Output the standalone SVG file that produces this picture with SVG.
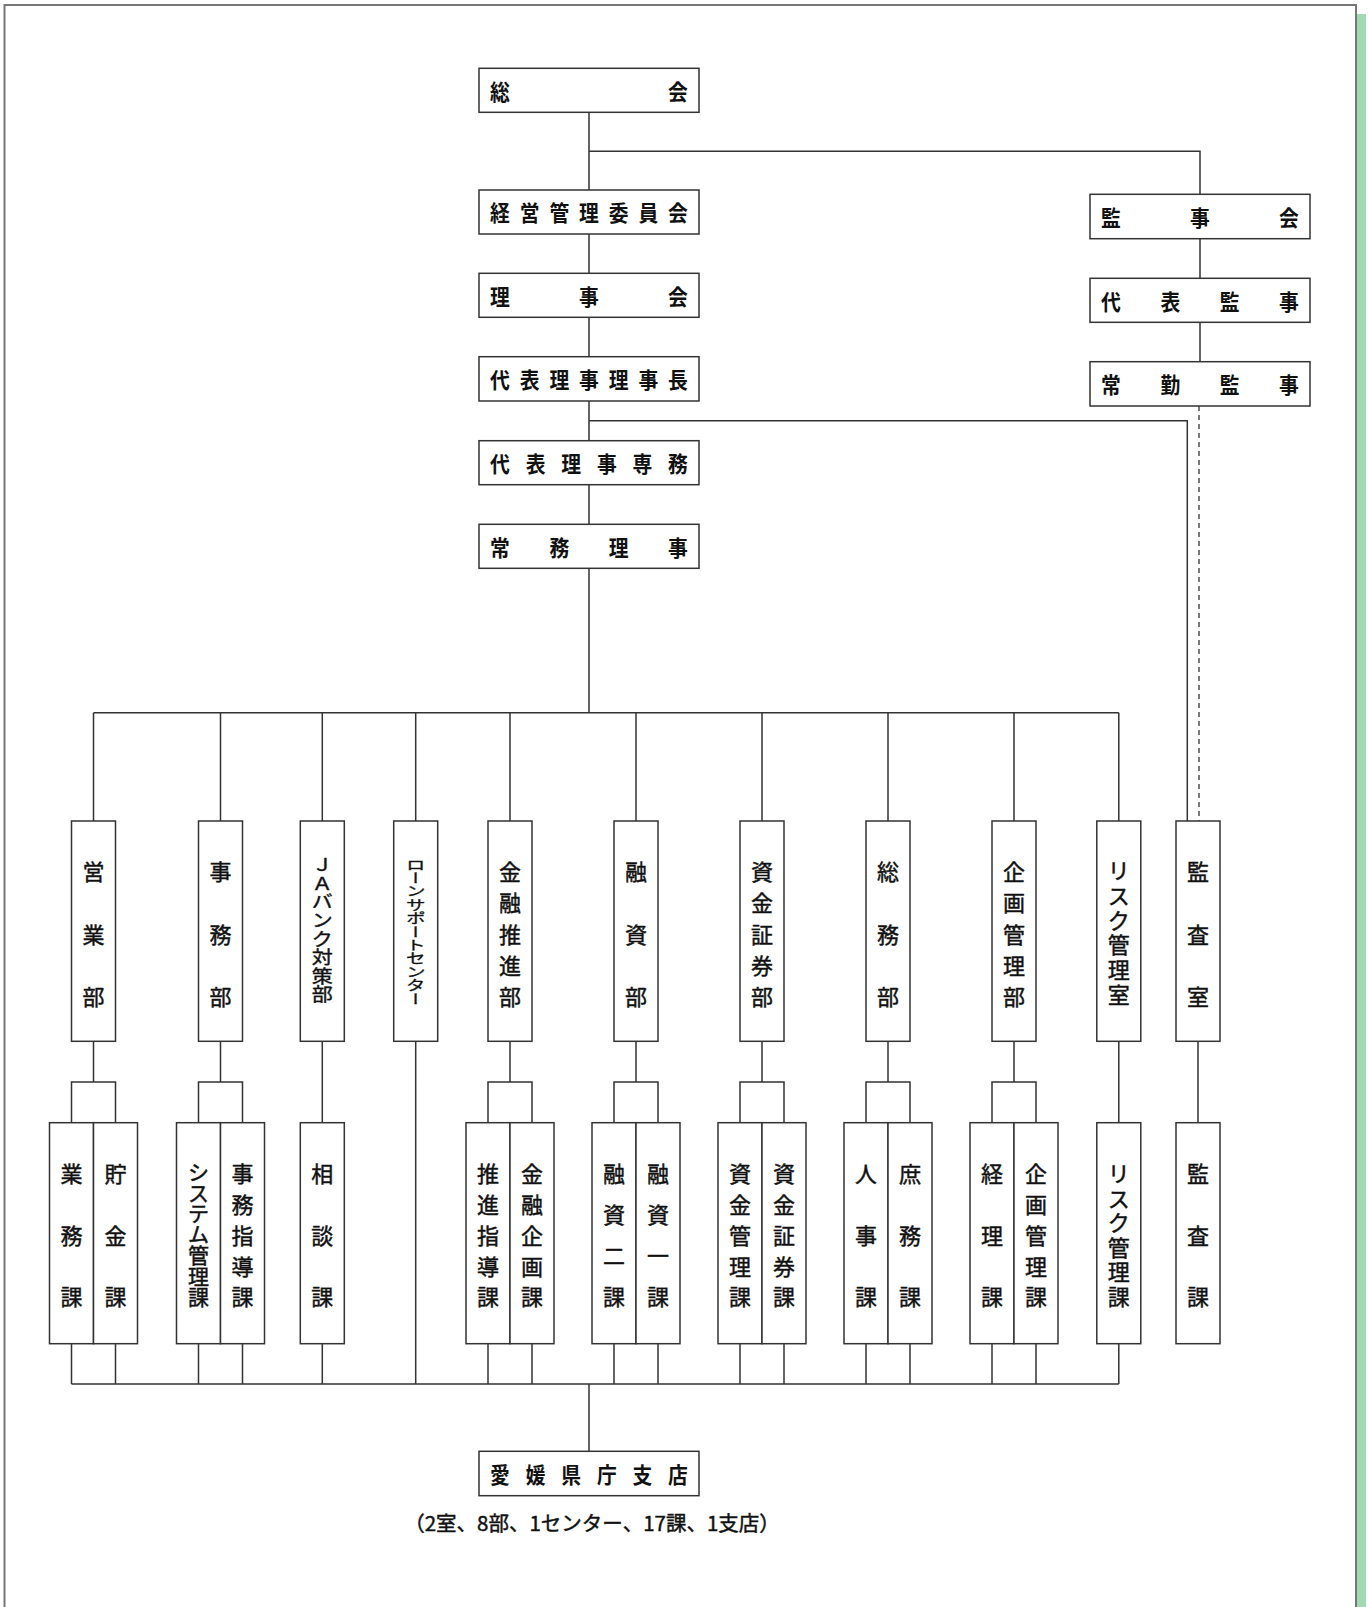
<svg xmlns="http://www.w3.org/2000/svg" width="1368" height="1607" viewBox="0 0 1368 1607">
<defs>
<style>
.bx{fill:#fff;stroke:#333;stroke-width:1.5}
.ln{fill:none;stroke:#333;stroke-width:1.5}
.ds{fill:none;stroke:#333;stroke-width:1.3;stroke-dasharray:5 4}
text{font-family:"Noto Sans CJK JP","Noto Sans CJK SC",sans-serif;fill:#111;dominant-baseline:central;text-anchor:middle}
.h{font-size:22px;font-weight:bold}
.v{font-size:22px;stroke:#111;stroke-width:0.45}
.vt{font-size:20px;stroke:#111;stroke-width:0.4;writing-mode:vertical-rl}
.note{font-size:20.5px;stroke:#111;stroke-width:0.45}
</style>
</defs>
<rect width="1368" height="1607" fill="#fff"/>
<g id="frame">
<path d="M4.5 1607 V5 H1356 V1607" fill="none" stroke="#777" stroke-width="2"/>
<rect x="1357" y="14" width="9" height="1593" fill="#A2D9B5"/>
</g>
<g id="connectors">
<path class="ln" d="M589 112.3 V190 M589 151.3 H1200 V194.3 M589 233.7 V273.3 M589 317.3 V356.7 M589 401 V440.7 M589 420.7 H1187.3 V821 M589 484.7 V524.3 M589 568.3 V712.7 M1200 238.7 V278.3 M1200 322.3 V361.7"/>
<path class="ds" d="M1199 406 V821"/>
<path class="ln" d="M93.5 712.7 H1118.8 M93.5 712.7 V821 M220.5 712.7 V821 M322.3 712.7 V821 M415.7 712.7 V821 M510 712.7 V821 M636 712.7 V821 M762 712.7 V821 M888 712.7 V821 M1014 712.7 V821 M1118.8 712.7 V821"/>
<path class="ln" d="M93.5 1041.3 V1082 M71.5 1122.7 V1082 H115.5 V1122.7 M220.5 1041.3 V1082 M198.5 1122.7 V1082 H242.5 V1122.7 M510 1041.3 V1082 M488 1122.7 V1082 H532 V1122.7 M636 1041.3 V1082 M614 1122.7 V1082 H658 V1122.7 M762 1041.3 V1082 M740 1122.7 V1082 H784 V1122.7 M888 1041.3 V1082 M866 1122.7 V1082 H910 V1122.7 M1014 1041.3 V1082 M992 1122.7 V1082 H1036 V1122.7 M322.3 1041.3 V1122.7 M1118.8 1041.3 V1122.7 M1198 1041.3 V1122.7 M415.7 1041.3 V1384"/>
<path class="ln" d="M71.5 1343.7 V1384 M115.5 1343.7 V1384 M198.5 1343.7 V1384 M242.5 1343.7 V1384 M322.3 1343.7 V1384 M488 1343.7 V1384 M532 1343.7 V1384 M614 1343.7 V1384 M658 1343.7 V1384 M740 1343.7 V1384 M784 1343.7 V1384 M866 1343.7 V1384 M910 1343.7 V1384 M992 1343.7 V1384 M1036 1343.7 V1384 M1118.8 1343.7 V1384 M71.5 1384 H1118.8 M589 1384 V1451"/>
</g>
<g id="n-soukai"><rect class="bx" x="479" y="68.3" width="220" height="44"/><text class="h" transform="translate(589 90.3) scale(0.9 1)" x="-98.89 98.89" y="0">総会</text></g>
<g id="n-keiei"><rect class="bx" x="479" y="190" width="220" height="44"/><text class="h" transform="translate(589 212) scale(0.9 1)" x="-98.89 -65.93 -32.96 0 32.96 65.93 98.89" y="0">経営管理委員会</text></g>
<g id="n-rijikai"><rect class="bx" x="479" y="273.3" width="220" height="44"/><text class="h" transform="translate(589 295.3) scale(0.9 1)" x="-98.89 0 98.89" y="0">理事会</text></g>
<g id="n-rijicho"><rect class="bx" x="479" y="356.7" width="220" height="44.3"/><text class="h" transform="translate(589 378.8) scale(0.9 1)" x="-98.89 -65.93 -32.96 0 32.96 65.93 98.89" y="0">代表理事理事長</text></g>
<g id="n-senmu"><rect class="bx" x="479" y="440.7" width="220" height="44"/><text class="h" transform="translate(589 462.7) scale(0.9 1)" x="-98.89 -59.33 -19.78 19.78 59.33 98.89" y="0">代表理事専務</text></g>
<g id="n-jomu"><rect class="bx" x="479" y="524.3" width="220" height="44"/><text class="h" transform="translate(589 546.3) scale(0.9 1)" x="-98.89 -32.96 32.96 98.89" y="0">常務理事</text></g>
<g id="n-kanjikai"><rect class="bx" x="1090" y="194.3" width="220" height="44.4"/><text class="h" transform="translate(1200 216.5) scale(0.9 1)" x="-98.89 0 98.89" y="0">監事会</text></g>
<g id="n-daihyokanji"><rect class="bx" x="1090" y="278.3" width="220" height="44"/><text class="h" transform="translate(1200 300.3) scale(0.9 1)" x="-98.89 -32.96 32.96 98.89" y="0">代表監事</text></g>
<g id="n-jokinkanji"><rect class="bx" x="1090" y="361.7" width="220" height="44.3"/><text class="h" transform="translate(1200 383.8) scale(0.9 1)" x="-98.89 -32.96 32.96 98.89" y="0">常勤監事</text></g>
<g id="n-eigyobu"><rect class="bx" x="71.5" y="821" width="44" height="220.3"/><text class="v" x="93.5 93.5 93.5" y="870 932.5 995">営業部</text></g>
<g id="n-jimubu"><rect class="bx" x="198.5" y="821" width="44" height="220.3"/><text class="v" x="220.5 220.5 220.5" y="870 932.5 995">事務部</text></g>
<g id="n-jabank"><rect class="bx" x="300.3" y="821" width="44" height="220.3"/><text class="v" style="font-size:21px" transform="translate(322.3 929) scale(1 0.84)" x="0 0 0 0 0 0 0 0" y="-77.4 -55.2 -33.2 -11.1 11.1 33.2 55.2 77.4">ＪＡバンク対策部</text></g>
<g id="n-loan"><rect class="bx" x="393.7" y="821" width="44" height="220.3"/><text class="vt" transform="translate(415.7 931.5) scale(1 0.67)" x="0" y="0">ローンサポートセンター</text></g>
<g id="n-kinyusuishin"><rect class="bx" x="488" y="821" width="44" height="220.3"/><text class="v" x="510 510 510 510 510" y="870 901.25 932.5 963.75 995">金融推進部</text></g>
<g id="n-yushibu"><rect class="bx" x="614" y="821" width="44" height="220.3"/><text class="v" x="636 636 636" y="870 932.5 995">融資部</text></g>
<g id="n-shikinshoken"><rect class="bx" x="740" y="821" width="44" height="220.3"/><text class="v" x="762 762 762 762 762" y="870 901.25 932.5 963.75 995">資金証券部</text></g>
<g id="n-somubu"><rect class="bx" x="866" y="821" width="44" height="220.3"/><text class="v" x="888 888 888" y="870 932.5 995">総務部</text></g>
<g id="n-kikakukanri"><rect class="bx" x="992" y="821" width="44" height="220.3"/><text class="v" x="1014 1014 1014 1014 1014" y="870 901.25 932.5 963.75 995">企画管理部</text></g>
<g id="n-riskshitsu"><rect class="bx" x="1096.8" y="821" width="44" height="220.3"/><text class="v" x="1118.8 1118.8 1118.8 1118.8 1118.8 1118.8" y="869 893.8 918.6 943.4 968.2 993">リスク管理室</text></g>
<g id="n-kansashitsu"><rect class="bx" x="1176" y="821" width="44" height="220.3"/><text class="v" x="1198 1198 1198" y="870 932.5 995">監査室</text></g>
<g id="n-gyomuka"><rect class="bx" x="49.5" y="1122.7" width="44" height="221"/><text class="v" x="71.5 71.5 71.5" y="1171.7 1233.5 1295.4">業務課</text></g>
<g id="n-chokinka"><rect class="bx" x="93.5" y="1122.7" width="44" height="221"/><text class="v" x="115.5 115.5 115.5" y="1171.7 1233.5 1295.4">貯金課</text></g>
<g id="n-systemka"><rect class="bx" x="176.5" y="1122.7" width="44" height="221"/><text class="v" style="font-size:21px" x="198.5 198.5 198.5 198.5 198.5 198.5 198.5" y="1170.5 1191.5 1212.4 1233.4 1254.3 1275.3 1296.2">システム管理課</text></g>
<g id="n-jimushidoka"><rect class="bx" x="220.5" y="1122.7" width="44" height="221"/><text class="v" x="242.5 242.5 242.5 242.5 242.5" y="1171.7 1202.6 1233.5 1264.5 1295.4">事務指導課</text></g>
<g id="n-sodanka"><rect class="bx" x="300.3" y="1122.7" width="44" height="221"/><text class="v" x="322.3 322.3 322.3" y="1171.7 1233.5 1295.4">相談課</text></g>
<g id="n-suishinshidoka"><rect class="bx" x="466" y="1122.7" width="44" height="221"/><text class="v" x="488 488 488 488 488" y="1171.7 1202.6 1233.5 1264.5 1295.4">推進指導課</text></g>
<g id="n-kinyukikakuka"><rect class="bx" x="510" y="1122.7" width="44" height="221"/><text class="v" x="532 532 532 532 532" y="1171.7 1202.6 1233.5 1264.5 1295.4">金融企画課</text></g>
<g id="n-yushi2ka"><rect class="bx" x="592" y="1122.7" width="44" height="221"/><text class="v" x="614 614 614 614" y="1171.7 1212.9 1254.2 1295.4">融資二課</text></g>
<g id="n-yushi1ka"><rect class="bx" x="636" y="1122.7" width="44" height="221"/><text class="v" x="658 658 658 658" y="1171.7 1212.9 1254.2 1295.4">融資一課</text></g>
<g id="n-shikinkanrika"><rect class="bx" x="718" y="1122.7" width="44" height="221"/><text class="v" x="740 740 740 740 740" y="1171.7 1202.6 1233.5 1264.5 1295.4">資金管理課</text></g>
<g id="n-shikinshokenka"><rect class="bx" x="762" y="1122.7" width="44" height="221"/><text class="v" x="784 784 784 784 784" y="1171.7 1202.6 1233.5 1264.5 1295.4">資金証券課</text></g>
<g id="n-jinjika"><rect class="bx" x="844" y="1122.7" width="44" height="221"/><text class="v" x="866 866 866" y="1171.7 1233.5 1295.4">人事課</text></g>
<g id="n-shomuka"><rect class="bx" x="888" y="1122.7" width="44" height="221"/><text class="v" x="910 910 910" y="1171.7 1233.5 1295.4">庶務課</text></g>
<g id="n-keirika"><rect class="bx" x="970" y="1122.7" width="44" height="221"/><text class="v" x="992 992 992" y="1171.7 1233.5 1295.4">経理課</text></g>
<g id="n-kikakukanrika"><rect class="bx" x="1014" y="1122.7" width="44" height="221"/><text class="v" x="1036 1036 1036 1036 1036" y="1171.7 1202.6 1233.5 1264.5 1295.4">企画管理課</text></g>
<g id="n-riskka"><rect class="bx" x="1096.8" y="1122.7" width="44" height="221"/><text class="v" x="1118.8 1118.8 1118.8 1118.8 1118.8 1118.8" y="1172 1196.6 1221.2 1245.8 1270.4 1295">リスク管理課</text></g>
<g id="n-kansaka"><rect class="bx" x="1176" y="1122.7" width="44" height="221"/><text class="v" x="1198 1198 1198" y="1171.7 1233.5 1295.4">監査課</text></g>
<g id="n-kenchoshiten"><rect class="bx" x="479" y="1451.3" width="220" height="44.4"/><text class="h" transform="translate(589 1473.5) scale(0.9 1)" x="-98.89 -59.33 -19.78 19.78 59.33 98.89" y="0">愛媛県庁支店</text></g>
<text class="note" x="592" y="1522">（2室、8部、1センター、17課、1支店）</text>
</svg>
